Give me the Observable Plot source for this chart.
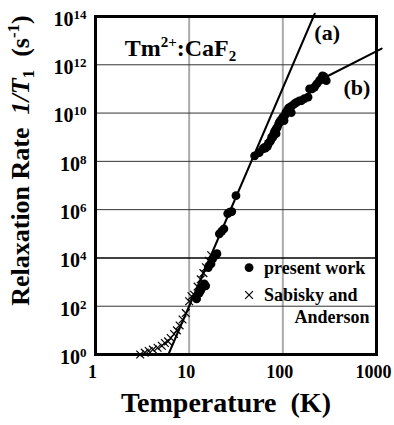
<!DOCTYPE html>
<html><head><meta charset="utf-8">
<script src="https://cdn.jsdelivr.net/npm/d3@7"></script>
<script src="https://cdn.jsdelivr.net/npm/@observablehq/plot@0.6"></script>
<style>
body{margin:0;background:#fff}
#chart{width:394px;height:425px}
</style>
</head><body><div id="chart"></div>
<script>
// ---- data ----
const presentT = [12.0, 12.8, 13.3, 14.0, 14.5, 15.0, 16.0, 17.1, 17.8, 19.3, 19.8, 21.0, 22.3, 23.5, 25.8, 27.0, 28.5, 31.6, 50.0, 56.0,
  61.2, 63.7, 68.5, 72.0, 78.3, 84.7, 84.8, 92.0, 100, 103, 108, 118, 123, 133, 158, 186, 193, 218, 246, 265, 291,
  65, 70, 74, 76, 80, 82, 87, 90, 95, 98, 105, 112, 115, 125, 140, 150, 170, 205, 230, 255, 275];
const presentR = [2.0e2, 3.5e2, 4.5e2, 6.3e2, 8.5e2, 7.0e2, 4.0e3, 5.6e3, 9.1e3, 1.3e4, 1.5e4, 1.0e5, 1.3e5, 1.6e5, 6.9e5, 7.8e5, 8.3e5, 3.8e6, 1.7e8, 2.3e8,
  3.3e8, 3.8e8, 4.2e8, 6.2e8, 1.0e9, 1.4e9, 2.2e9, 4.2e9, 6.8e9, 4.9e9, 1.1e10, 1.7e10, 1.05e10, 2.4e10, 3.3e10, 4.6e10, 1.0e11, 1.2e11, 2.2e11, 3.5e11, 2.2e11,
  3.5e8, 5.6e8, 7.1e8, 1.0e9, 1.4e9, 1.8e9, 2.5e9, 3.5e9, 5.0e9, 5.6e9, 7.9e9, 1.3e10, 1.6e10, 2.0e10, 2.8e10, 3.2e10, 4.0e10, 1.0e11, 1.6e11, 2.5e11, 3.2e11];
const sabiskyT = [3.0, 3.35, 3.7, 4.1, 4.6, 5.1, 5.5, 5.95, 6.35, 6.9, 7.4, 7.9, 8.5, 9.2, 10.0, 10.6, 11.3, 12.3, 13.3, 14.2, 15.1, 16.2, 17.2];
const sabiskyR = [1.0, 1.2, 1.4, 1.6, 1.9, 2.3, 3.0, 3.5, 4.8, 7.1, 10, 16, 28, 52, 160, 260, 300, 650, 1300, 2350, 4100, 7600, 1.3e4];
const lineAT = [6.0, 219];
const lineAR = [1, 1.3e14];
const lineBT = [55.8, 66.4, 89.3, 123, 178, 278, 1135];
const lineBR = [2.8e8, 5.5e8, 2.8e9, 1.5e10, 4.8e10, 2.9e11, 4.7e12];
const xTicks = [1, 10, 100, 1000];
const xTickLabels = ["1", "10", "100", "1000"];
const yTicks = [1, 1e2, 1e4, 1e6, 1e8, 1e10, 1e12, 1e14];
const yTickExps = ["0", "2", "4", "6", "8", "10", "12", "14"];
const xGrid = [10, 100];
const yGridThin = [1e2, 1e6, 1e8, 1e10, 1e12];
const yGridDark = [1e4];
const legendLabels = ["present work", "Sabisky and", "Anderson"];
const curveLabels = ["(a)", "(b)"];
const titleText = "Tm2+:CaF2";
const xTitle = "Temperature  (K)";
const yTitle = "YTITLE";

const FONT = "'Liberation Serif','Times New Roman',serif";

const chart = Plot.plot({
  width: 394,
  height: 425,
  marginLeft: 95,
  marginRight: 18,
  marginTop: 16,
  marginBottom: 71,
  style: {fontFamily: FONT, fontWeight: "bold", fontSize: "18px", color: "black", background: "white"},
  x: {type: "log", domain: [1, 1000]},
  y: {type: "log", domain: [1, 1e14]},
  marks: [
    Plot.ruleX(xGrid, {stroke: "#aaa", strokeWidth: 2}),
    Plot.ruleY(yGridThin, {stroke: "#333", strokeWidth: 1}),
    Plot.ruleY(yGridDark, {stroke: "#000", strokeWidth: 1.5}),
    Plot.axisX({ticks: xTicks, tickSize: 0, tickPadding: 11, label: null, fontSize: 18, dx: -3,
      tickFormat: (d) => xTickLabels[xTicks.indexOf(d)]}),
    Plot.axisY({ticks: yTicks, tickSize: 0, tickPadding: 9, label: null, fontSize: 20, dy: 3,
      tickFormat: (d) => "10^" + yTickExps[yTicks.indexOf(d)]}),
    Plot.line(lineAT.map((t, i) => ({t, r: lineAR[i]})), {x: "t", y: "r", stroke: "black", strokeWidth: 2}),
    Plot.line(lineBT.map((t, i) => ({t, r: lineBR[i]})), {x: "t", y: "r", stroke: "black", strokeWidth: 2}),
    Plot.dot(sabiskyT, {x: sabiskyT, y: sabiskyR, symbol: "times", r: 3.6, stroke: "black", strokeWidth: 1.2}),
    Plot.dot(presentT, {x: presentT, y: presentR, r: 4.4, fill: "black", stroke: "none"}),
    Plot.frame({stroke: "black", strokeWidth: 3}),
    // legend
    Plot.dot([0], {x: [43.6], y: [4.0e3], r: 4.4, fill: "black", stroke: "none"}),
    Plot.dot([0], {x: [43.6], y: [2.9e2], symbol: "times", r: 3.6, stroke: "black", strokeWidth: 1.2}),
    Plot.text([legendLabels[0]], {x: [63], y: [3.6e3], text: d => d, textAnchor: "start", fontSize: 18}),
    Plot.text([legendLabels[1]], {x: [63], y: [2.8e2], text: d => d, textAnchor: "start", fontSize: 18}),
    Plot.text([legendLabels[2]], {x: [844], y: [35], text: d => d, textAnchor: "end", fontSize: 18}),
    // curve labels
    Plot.text([curveLabels[0]], {x: [217], y: [2e13], text: d => d, textAnchor: "start", fontSize: 22}),
    Plot.text([curveLabels[1]], {x: [444], y: [1.1e11], text: d => d, textAnchor: "start", fontSize: 22}),
    Plot.text([titleText], {x: [2.05], y: [5e12], text: d => d, textAnchor: "start", fontSize: 24}),
    // axis titles
    Plot.text([xTitle], {frameAnchor: "bottom", dx: -10, dy: 57, textAnchor: "middle", text: d => d, fontSize: 28}),
    Plot.text([yTitle], {frameAnchor: "left", dx: -75, dy: -25, rotate: -90, textAnchor: "middle", text: d => d, fontSize: 26})
  ]
});
document.getElementById("chart").appendChild(chart);

const NS = "http://www.w3.org/2000/svg";
function setRich(el, parts) {
  el.textContent = "";
  let cur = 0;
  for (const p of parts) {
    const ts = document.createElementNS(NS, "tspan");
    const target = p.shift || 0;
    if (target !== cur) ts.setAttribute("dy", (target - cur) + "px");
    cur = target;
    if (p.size) ts.setAttribute("font-size", p.size);
    if (p.italic) ts.setAttribute("font-style", "italic");
    ts.textContent = p.t;
    el.appendChild(ts);
  }
}
d3.select(chart).selectAll("text").each(function() {
  const s = this.textContent;
  if (s.startsWith("10^")) {
    setRich(this, [{t: "10"}, {t: s.slice(3), size: 13, shift: -7}]);
  } else if (s === titleText) {
    setRich(this, [{t: "Tm"}, {t: "2+", size: 15, shift: -9}, {t: ":CaF", shift: 0}, {t: "2", size: 15, shift: 5}]);
  } else if (s === yTitle) {
    setRich(this, [{t: "Relaxation Rate  "}, {t: "1/T", italic: true}, {t: "1", size: 17, shift: 5},
      {t: "  (s", shift: 0}, {t: "-1", size: 17, shift: -10}, {t: ")", shift: 0}]);
  }
});
</script>
</body></html>
